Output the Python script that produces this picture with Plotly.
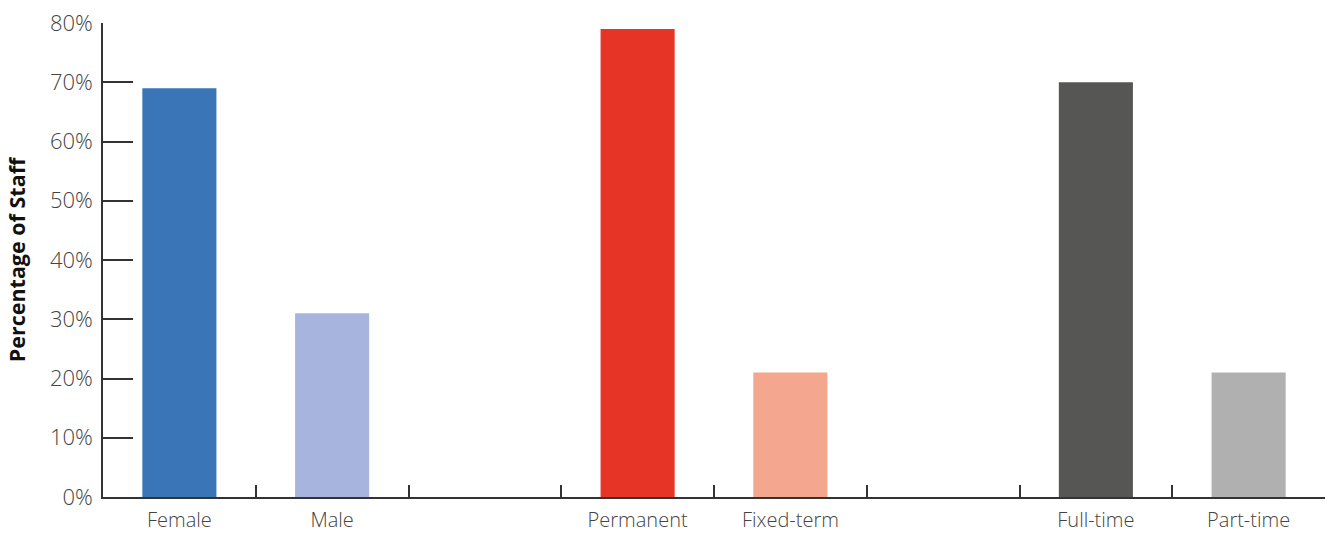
import plotly.graph_objects as go

categories = ["Female", "Male", " ", "Permanent", "Fixed-term", "  ", "Full-time", "Part-time"]
values = [69, 31, None, 79, 21, None, 70, 21]
colors = ["#3a75b8", "#a7b5de", "#ffffff", "#e63527", "#f4a68e", "#ffffff", "#565654", "#b0b0b0"]
y_ticks = [0, 10, 20, 30, 40, 50, 60, 70, 80]
y_tick_labels = [f"{v}%" for v in y_ticks]

fig = go.Figure(go.Bar(x=categories, y=values, marker_color=colors, marker_line_width=0))

fig.update_layout(
    width=1333, height=533,
    margin=dict(l=103, r=8, t=23, b=36),
    paper_bgcolor="white", plot_bgcolor="white",
    bargap=0.515,
    showlegend=False,
    font=dict(family="Open Sans", size=19, color="#3a3a3a"),
)
fig.update_xaxes(
    type="category", categoryorder="array", categoryarray=categories,
    range=[-0.5, 7.5], automargin=False,
    showline=True, linecolor="#333333", linewidth=1.5,
    ticks="inside", tickson="boundaries", ticklen=12, tickcolor="#333333", tickwidth=1.5,
    showgrid=False, zeroline=False,
    tickfont=dict(size=20, weight=300, color="#444444"),
    ticklabelstandoff=4,
)
fig.update_yaxes(
    range=[0, 80], tickvals=y_ticks, ticktext=y_tick_labels, automargin=False,
    showline=True, linecolor="#333333", linewidth=1.5,
    ticks="inside", ticklen=30, tickcolor="#333333", tickwidth=1.5,
    showgrid=False, zeroline=False,
    tickfont=dict(size=22, weight=300, color="#444444"),
    ticklabelstandoff=4,
    title=dict(text="<b>Percentage of Staff</b>", font=dict(size=21.5, color="#111111"), standoff=18),
)

fig.write_html("out.html")
